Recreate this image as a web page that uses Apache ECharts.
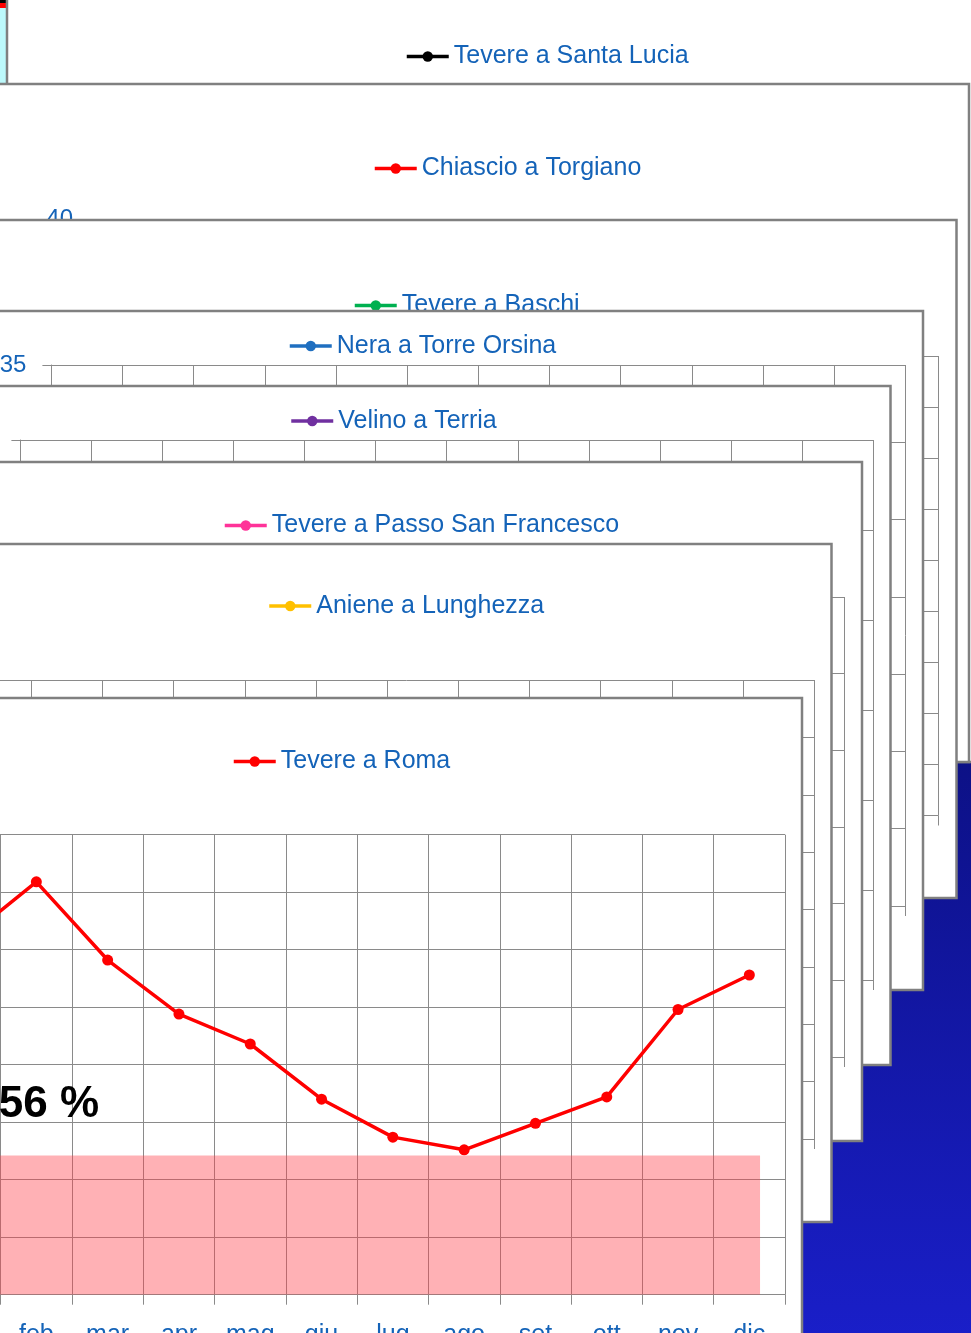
<!DOCTYPE html>
<html>
<head>
<meta charset="utf-8">
<title>Portate medie mensili</title>
<script src="https://cdn.jsdelivr.net/npm/echarts@6/dist/echarts.min.js"></script>
<style>
  html, body { margin: 0; padding: 0; background: #ffffff; overflow: hidden; }
  #chart { width: 971px; height: 1333px; }
</style>
</head>
<body>
<div id="chart"></div>
<script>
// ---- data ---------------------------------------------------------------
const months = ['gen', 'feb', 'mar', 'apr', 'mag', 'giu', 'lug', 'ago', 'set', 'ott', 'nov', 'dic'];

const stations = [
  'Tevere a Santa Lucia',
  'Chiascio a Torgiano',
  'Tevere a Baschi',
  'Nera a Torre Orsina',
  'Velino a Terria',
  'Tevere a Passo San Francesco',
  'Aniene a Lunghezza',
  'Tevere a Roma'
];
const stationColors = ['#000000', '#ff0000', '#00b050', '#1f6fc0', '#7030a0', '#ff3399', '#ffc000', '#ff0000'];

// monthly mean discharge, Tevere a Roma
const romaValues = [309, 359, 291, 244, 218, 170, 137, 126, 149, 172, 248, 278];
// low-flow band under the Roma curve
const romaBandTop = 121;
const romaBandEnd = 'dic';
const bandNote = '56 %';

// value axis of every station panel (max / step)
const axisMax = [40, 40, 45, 35, 30, 60, 40, 400];
const axisStep = [5, 5, 5, 5, 5, 10, 5, 50];

// ---- layout of the stacked panels (back to front) ------------------------
// card: [x0, y0, x1, y1]   grid: [left, top, width, height]   legend: [iconLeft, centerY]
const panels = [
  { card: [7, -30, 1010, 762],     grid: [110, 110, 854, 460],      legend: [405, 56] },
  { card: [-30, 84, 969, 762],     grid: [98, 219.5, 854, 460],     legend: [373, 168] },
  { card: [-30, 220, 956.5, 898],  grid: [84, 356, 854, 459.5],     legend: [353, 305] },
  { card: [-30, 311, 923, 990],    grid: [51.4, 365, 854, 541],     legend: [288, 345.5] },
  { card: [-30, 386, 890.5, 1065], grid: [20.4, 440, 852.6, 540],   legend: [289.5, 420.5] },
  { card: [-30, 462, 862, 1141],   grid: [-10, 597, 854, 460],      legend: [223, 525] },
  { card: [-30, 544, 831.5, 1222], grid: [-39.8, 680, 854, 459],    legend: [267.5, 605.5] },
  { card: [-30, 698, 802, 1360],   grid: [-70.6, 834.7, 855.6, 460], legend: [232, 761] }
];

const FONT = '"Comic Sans MS", "Liberation Sans", Arial, sans-serif';
const TEXT_BLUE = '#1463b8';
const GRID_GRAY = '#8a8a8a';
const last = panels.length - 1;
const zBase = i => 10 * (i + 1);

const chart = echarts.init(document.getElementById('chart'), null, { renderer: 'canvas' });

const graphicElements = [
  // slide background peeking out at the lower right
  {
    type: 'rect', z: 0, silent: true,
    shape: { x: 780, y: 690, width: 200, height: 660 },
    style: {
      fill: {
        type: 'linear', x: 0, y: 0, x2: 0, y2: 1,
        colorStops: [{ offset: 0, color: '#0b0f7e' }, { offset: 1, color: '#1a1fca' }]
      }
    }
  },
  { type: 'rect', z: 0, silent: true, shape: { x: 0, y: 0, width: 8, height: 90 }, style: { fill: '#bdf9fb' } },
  { type: 'rect', z: 0, silent: true, shape: { x: 0, y: 0, width: 8, height: 3 }, style: { fill: '#000000' } },
  { type: 'rect', z: 0, silent: true, shape: { x: 0, y: 3, width: 8, height: 5 }, style: { fill: '#ff0000' } }
];

panels.forEach((p, i) => {
  const [x0, y0, x1, y1] = p.card;
  graphicElements.push({
    type: 'rect', z: zBase(i), silent: true,
    shape: { x: x0, y: y0, width: x1 - x0, height: y1 - y0 },
    style: { fill: '#ffffff', stroke: '#808080', lineWidth: 2.5 }
  });
});

graphicElements.push({
  type: 'text', z: zBase(last) + 6, silent: true,
  x: 99, y: 1105,
  style: {
    text: bandNote, fill: '#000000', align: 'right', verticalAlign: 'middle',
    font: 'bold 44px "Liberation Sans", Arial, sans-serif'
  }
});

const option = {
  animation: false,
  backgroundColor: '#ffffff',
  graphic: { elements: graphicElements },
  grid: panels.map(p => ({
    left: p.grid[0], top: p.grid[1], width: p.grid[2], height: p.grid[3],
    containLabel: false, outerBoundsMode: 'none', show: false
  })),
  xAxis: panels.map((p, i) => ({
    type: 'category', gridIndex: i, data: months, boundaryGap: true, z: zBase(i) + 1,
    axisLine: { show: true, lineStyle: { color: GRID_GRAY, width: 1 } },
    axisTick: { show: true, length: 10, interval: 0, lineStyle: { color: GRID_GRAY, width: 1 } },
    axisLabel: { show: true, interval: 0, margin: 28, fontSize: 25, color: TEXT_BLUE, fontFamily: FONT },
    splitLine: { show: true, interval: 0, lineStyle: { color: GRID_GRAY, width: 1 } }
  })),
  yAxis: panels.map((p, i) => ({
    type: 'value', gridIndex: i, min: 0, max: axisMax[i], interval: axisStep[i], z: zBase(i) + 1,
    axisLine: { show: true, lineStyle: { color: GRID_GRAY, width: 1 } },
    axisTick: { show: true, length: 9, lineStyle: { color: GRID_GRAY, width: 1 } },
    axisLabel: { show: true, margin: 25, fontSize: 24, color: TEXT_BLUE, fontFamily: FONT },
    splitLine: { show: true, lineStyle: { color: GRID_GRAY, width: 1 } }
  })),
  legend: panels.map((p, i) => ({
    data: [stations[i]],
    left: p.legend[0], top: p.legend[1] - 12, padding: 0,
    itemWidth: 42, itemHeight: 13, selectedMode: false, z: zBase(i) + 4,
    lineStyle: { width: 3.5 },
    textStyle: { fontSize: 25, color: TEXT_BLUE, fontFamily: FONT }
  })),
  series: [
    ...panels.map((p, i) => ({
      type: 'line', name: stations[i], xAxisIndex: i, yAxisIndex: i,
      data: i === last ? romaValues : [],
      color: stationColors[i],
      symbol: 'circle', symbolSize: 11,
      lineStyle: { width: 3.5, color: stationColors[i] },
      itemStyle: { color: stationColors[i] },
      z: zBase(i) + 3, silent: true
    })),
    {
      type: 'custom', name: 'soglia', xAxisIndex: last, yAxisIndex: last,
      z: zBase(last) + 2, silent: true, clip: true,
      data: [[months.indexOf(romaBandEnd), romaBandTop]],
      renderItem(params, api) {
        const cs = params.coordSys;
        const topY = api.coord([0, api.value(1)])[1];
        const baseY = api.coord([0, 0])[1];
        const endX = api.coord([api.value(0), 0])[0] + api.size([1, 0])[0] * 0.15;
        return {
          type: 'rect',
          shape: { x: cs.x, y: topY, width: endX - cs.x, height: baseY - topY },
          style: { fill: 'rgba(255, 60, 70, 0.4)' }
        };
      }
    }
  ]
};

chart.setOption(option);
</script>
</body>
</html>
